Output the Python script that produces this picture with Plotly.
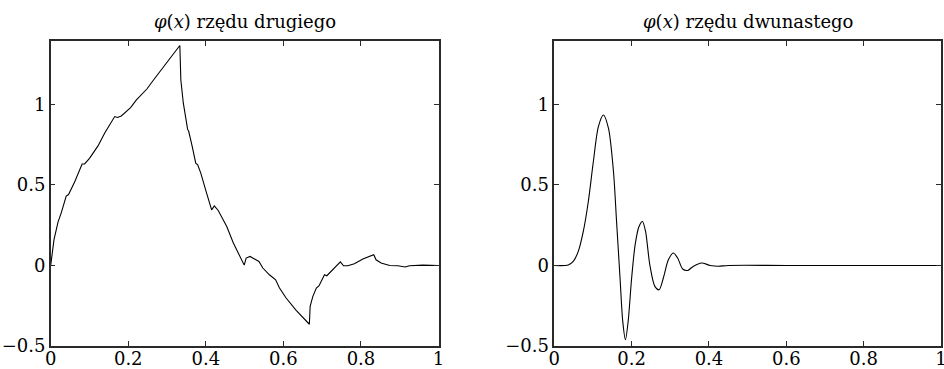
import plotly.graph_objects as go

# Scaling function of order 2 (left panel), read point by point
x_order2 = [0.0, 0.0085, 0.019, 0.027, 0.040, 0.046, 0.062, 0.081, 0.0875, 0.100,
            0.122, 0.139, 0.165, 0.172, 0.182, 0.206, 0.221, 0.248, 0.268, 0.300,
            0.333, 0.3356, 0.342, 0.353, 0.356, 0.365, 0.374, 0.379, 0.387, 0.402,
            0.415, 0.422, 0.432, 0.454, 0.471, 0.499, 0.504, 0.514, 0.526, 0.537,
            0.547, 0.564, 0.580, 0.590, 0.607, 0.633, 0.667, 0.669, 0.676, 0.685,
            0.692, 0.706, 0.712, 0.728, 0.747, 0.755, 0.766, 0.783, 0.805, 0.833,
            0.839, 0.852, 0.874, 0.895, 0.914, 0.925, 0.960, 1.0]
y_order2 = [0.0, 0.16, 0.27, 0.325, 0.43, 0.44, 0.52, 0.63, 0.63, 0.665,
            0.742, 0.82, 0.924, 0.918, 0.928, 0.98, 1.027, 1.095, 1.16, 1.26,
            1.365, 1.151, 1.007, 0.846, 0.831, 0.738, 0.635, 0.624, 0.573, 0.449,
            0.345, 0.370, 0.341, 0.242, 0.139, 0.002, 0.046, 0.056, 0.040, 0.025,
            -0.016, -0.058, -0.089, -0.140, -0.202, -0.279, -0.365, -0.254, -0.192, -0.140,
            -0.126, -0.058, -0.064, -0.027, 0.022, -0.002, -0.002, 0.010, 0.040, 0.067,
            0.035, 0.015, 0.0, -0.002, -0.010, -0.002, 0.002, 0.0]

# Scaling function of order 12 (right panel)
x_order12 = [0.0, 0.036, 0.049, 0.062, 0.075, 0.088, 0.101, 0.114, 0.127, 0.140,
             0.153, 0.161, 0.170, 0.177, 0.184, 0.191, 0.200, 0.209, 0.219, 0.228,
             0.236, 0.247, 0.260, 0.271, 0.282, 0.295, 0.308, 0.319, 0.332, 0.345,
             0.359, 0.381, 0.403, 0.424, 0.450, 0.6, 0.8, 1.0]
y_order12 = [0.0, 0.003, 0.025, 0.087, 0.211, 0.397, 0.645, 0.862, 0.934, 0.852,
             0.583, 0.273, -0.078, -0.347, -0.461, -0.347, -0.078, 0.128, 0.242, 0.273,
             0.211, 0.004, -0.130, -0.151, -0.078, 0.035, 0.077, 0.046, -0.022, -0.031,
             -0.006, 0.015, 0.0, -0.005, 0.0, 0.0, 0.0, 0.0]

titles = ["<i>φ</i>(<i>x</i>) rzędu drugiego", "<i>φ</i>(<i>x</i>) rzędu dwunastego"]
x_ticks = [0, 0.2, 0.4, 0.6, 0.8, 1]
x_ticktext = ["0", "0.2", "0.4", "0.6", "0.8", "1"]
y_ticks = [-0.5, 0, 0.5, 1]
y_ticktext = ["−0.5", "0", "0.5", "1"]

W, H = 944, 369
FONT = "DejaVu Serif"
AXIS_COLOR = "#2a2a2a"
left_dom = [50.7 / W, 438.5 / W]
right_dom = [554.3 / W, 941 / W]

fig = go.Figure()
fig.add_trace(go.Scatter(x=x_order2, y=y_order2, mode="lines",
                         line=dict(color="black", width=1.1),
                         xaxis="x", yaxis="y", showlegend=False))
fig.add_trace(go.Scatter(x=x_order12, y=y_order12, mode="lines",
                         line=dict(color="black", width=1.1, shape="spline", smoothing=0.8),
                         xaxis="x2", yaxis="y2", showlegend=False))

ydom = [1 - 346 / H, 1 - 41 / H]
common_x = dict(range=[0, 1], tickvals=x_ticks, ticktext=x_ticktext,
                ticks="inside", ticklen=5, tickcolor=AXIS_COLOR, tickwidth=1,
                showline=True, linecolor=AXIS_COLOR, linewidth=1.5, mirror="ticks",
                showgrid=False, zeroline=False, automargin=False,
                ticklabelstandoff=-4, ticklabeloverflow="allow",
                tickfont=dict(family=FONT, size=18, color="black"))
common_y = dict(range=[-0.5, 1.393], tickvals=y_ticks, ticktext=y_ticktext,
                ticks="inside", ticklen=5, tickcolor=AXIS_COLOR, tickwidth=1,
                showline=True, linecolor=AXIS_COLOR, linewidth=1.5, mirror="ticks",
                showgrid=False, zeroline=False, automargin=False, domain=ydom,
                tickfont=dict(family=FONT, size=18, color="black"))

fig.update_layout(
    width=W, height=H,
    margin=dict(l=0, r=0, t=0, b=0),
    paper_bgcolor="white", plot_bgcolor="white",
    xaxis=dict(common_x, domain=left_dom, anchor="y"),
    yaxis=dict(common_y, anchor="x"),
    xaxis2=dict(common_x, domain=right_dom, anchor="y2"),
    yaxis2=dict(common_y, anchor="x2"),
)

# Titles centred over each panel
for dom, text in zip([left_dom, right_dom], titles):
    fig.add_annotation(text=text, x=(dom[0] + dom[1]) / 2, y=1 - 22 / H,
                       xref="paper", yref="paper",
                       xanchor="center", yanchor="middle", showarrow=False,
                       font=dict(family=FONT, size=18, color="black"))

fig.write_html("out.html")
